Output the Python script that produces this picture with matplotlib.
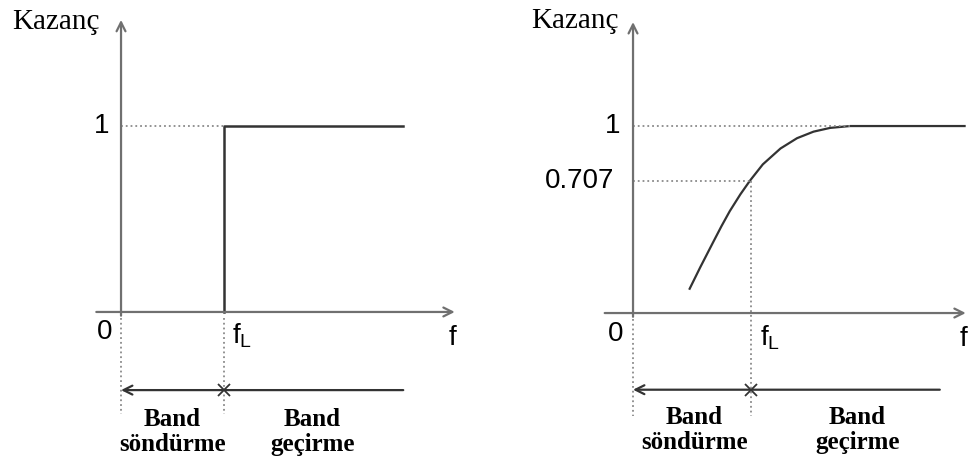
import matplotlib.pyplot as plt

# ideal high-pass response (f in units of f_L)
step_f = [1.0, 1.0, 2.74]
step_gain = [0.0, 1.0, 1.0]

# real high-pass response
curve_f = [0.48, 0.57, 0.68, 0.75, 0.82, 0.91, 0.99, 1.10, 1.25, 1.39, 1.53, 1.67, 1.84, 2.81]
curve_gain = [0.13, 0.245, 0.38, 0.465, 0.545, 0.635, 0.707, 0.795, 0.88, 0.935, 0.97, 0.99, 1.0, 1.0]

cutoff_gain = 0.707
axis_label = "Kazanç"
stop_label = "Band\nsöndürme"
pass_label = "Band\ngeçirme"

AXIS_C = "#707070"
LINE_C = "#333333"
DOT_C = "#8a8a8a"
SANS = "Liberation Sans"
SERIF = "Liberation Serif"


def arrow(ax, x0, y0, x1, y1, color=AXIS_C):
    ax.annotate("", xy=(x1, y1), xytext=(x0, y0),
                arrowprops=dict(arrowstyle="->", color=color, lw=1.6,
                                mutation_scale=16, shrinkA=0, shrinkB=0))


def panel(ax, xlim, ylim, x_end, y_top, band_end, band_y, text_y, stop_x, pass_x, kaz_x):
    ax.set_xlim(*xlim)
    ax.set_ylim(*ylim)
    ax.axis("off")
    arrow(ax, 0, -0.02, 0, y_top)
    arrow(ax, -0.24, 0, x_end, 0)
    ax.text(kaz_x, 1.56, axis_label, family=SERIF, fontsize=21, ha="center", va="center")
    ax.text(-0.085, -0.11, "0", family=SANS, fontsize=20, ha="right", va="center")
    ax.text(1.08, -0.13, r"$\mathregular{f_L}$", family=SANS, fontsize=20, ha="left", va="center")
    ax.text(x_end - 0.02, -0.14, "f", family=SANS, fontsize=20, ha="center", va="center")
    # band markers below the axis
    ax.plot([0, 0], [-0.03, -0.55], ls=":", color=DOT_C, lw=1.3)
    arrow(ax, band_end, band_y, 0, band_y, color=LINE_C)
    ax.plot([1], [band_y], marker="x", color=LINE_C, ms=8, mew=1.3)
    ax.text(stop_x, text_y, stop_label, family=SERIF, fontweight="bold", fontsize=18,
            ha="center", va="center", linespacing=1.1)
    ax.text(pass_x, text_y, pass_label, family=SERIF, fontweight="bold", fontsize=18,
            ha="center", va="center", linespacing=1.1)


fig = plt.figure(figsize=(9.68, 4.66), dpi=100)

# ideal
ax1 = fig.add_axes([0, 0, 0.5, 1])
panel(ax1, (-1.175, 3.524), (-0.828, 1.677), 3.24, 1.57, 2.74, -0.42, -0.645, 0.5, 1.86, -0.63)
ax1.plot(step_f, step_gain, color=LINE_C, lw=1.8)
ax1.plot([0, 1], [1, 1], ls=":", color=DOT_C, lw=1.3)
ax1.plot([1, 1], [-0.03, -0.55], ls=":", color=DOT_C, lw=1.3)
ax1.text(-0.11, 1, "1", family=SANS, fontsize=20, ha="right", va="center")

# real
ax2 = fig.add_axes([0.5, 0, 0.5, 1])
panel(ax2, (-1.263, 2.839), (-0.818, 1.674), 2.82, 1.556, 2.60, -0.41, -0.625, 0.52, 1.9, -0.49)
ax2.plot(curve_f, curve_gain, color=LINE_C, lw=1.6)
ax2.plot([0, 1.84], [1, 1], ls=":", color=DOT_C, lw=1.3)
ax2.plot([0, 1], [cutoff_gain, cutoff_gain], ls=":", color=DOT_C, lw=1.3)
ax2.plot([1, 1], [cutoff_gain, -0.55], ls=":", color=DOT_C, lw=1.3)
ax2.text(-0.11, 1, "1", family=SANS, fontsize=20, ha="right", va="center")
ax2.text(-0.16, cutoff_gain, str(cutoff_gain), family=SANS, fontsize=20, ha="right", va="center")

fig.savefig("out.png", dpi=100)
